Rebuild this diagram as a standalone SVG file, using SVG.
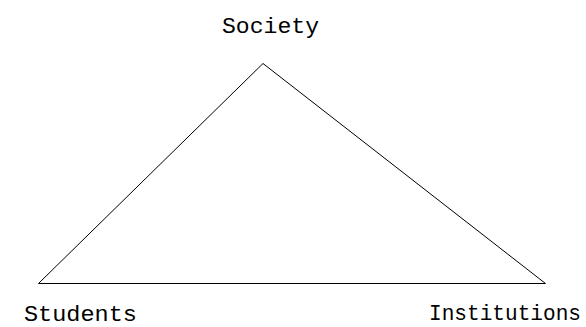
<svg xmlns="http://www.w3.org/2000/svg" width="586" height="327" viewBox="0 0 586 327">
<style>
.lbl{font-family:"Liberation Mono","DejaVu Sans Mono",monospace;font-size:22px;fill:#000}
.edge{stroke:#000;stroke-width:1;fill:none}
</style>
<rect width="586" height="327" fill="#fff"/>
<g id="connectors">
<line class="edge" x1="263" y1="63.5" x2="38.5" y2="283.5"/>
<line class="edge" x1="263" y1="63.5" x2="545.5" y2="283.5"/>
<line class="edge" x1="38.5" y1="283.5" x2="545.5" y2="283.5"/>
</g>
<g id="society"><text class="lbl" x="222" y="33" textLength="97" lengthAdjust="spacingAndGlyphs">Society</text></g>
<g id="students"><text class="lbl" x="24" y="321" textLength="113" lengthAdjust="spacingAndGlyphs">Students</text></g>
<g id="institutions"><text class="lbl" x="429" y="320" textLength="152" lengthAdjust="spacingAndGlyphs">Institutions</text></g>
</svg>
